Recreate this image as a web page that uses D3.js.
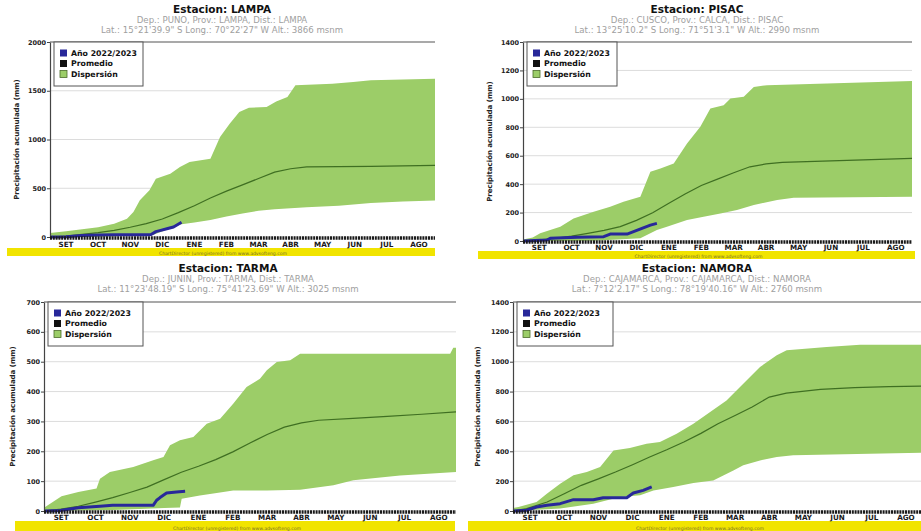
<!DOCTYPE html>
<html>
<head>
<meta charset="utf-8">
<script src="https://cdn.jsdelivr.net/npm/d3@7"></script>
<style>
  body { margin: 0; background: #fff; }
  text { font-family: "DejaVu Sans", sans-serif; }
</style>
</head>
<body>
<div id="chart"></div>
<script>
"use strict"

// month labels (season sep -> aug)
const months = ["SET", "OCT", "NOV", "DIC", "ENE", "FEB", "MAR", "ABR", "MAY", "JUN", "JUL", "AGO"];
const legendLabels = ["Año 2022/2023", "Promedio", "Dispersión"];

// ---- LAMPA  [month, mm]
const lampaTicks = [0, 500, 1000, 1500, 2000];
const lampaMean = [[0,0],[0.5,10],[1,27],[1.5,45],[2,68],[2.5,100],[3,137],[3.5,185],[4,250],[4.5,320],[5,400],[5.5,470],[6,535],[6.5,600],[7,665],[7.5,700],[8,720],[9,722],[10,725],[11,730],[12,735]];
const lampaUpper = [[0,40],[0.5,60],[1,80],[1.5,100],[2,137],[2.4,188],[2.6,256],[2.8,376],[3.1,479],[3.3,598],[3.75,650],[4.05,718],[4.35,769],[5,803],[5.3,1026],[5.6,1162],[5.9,1282],[6.2,1326],[6.75,1333],[7.05,1391],[7.4,1436],[7.65,1556],[8.8,1573],[9.45,1590],[10,1607],[12,1624]];
const lampaLower = [[0,0],[1,2],[2,8],[3,18],[3.2,20],[3.6,70],[4.1,130],[4.5,150],[5,175],[5.5,210],[6,240],[6.5,270],[7,285],[7.5,295],[8,305],[9,320],[10,350],[11,365],[12,375]];
const lampaObs = [[0,0],[0.5,3],[1,15],[1.5,20],[2,22],[2.5,22],[3,22],[3.15,25],[3.3,55],[3.45,68],[3.7,90],[3.85,103],[4.1,152]];

// ---- PISAC
const pisacTicks = [0, 200, 400, 600, 800, 1000, 1200, 1400];
const pisacMean = [[0,0],[0.5,8],[1,19],[1.5,34],[2,54],[2.5,75],[3,101],[3.5,145],[4,199],[4.5,265],[5,330],[5.5,390],[6,435],[6.5,480],[7,522],[7.5,542],[8,553],[9,560],[10,567],[11,574],[12,581]];
const pisacUpper = [[0,10],[0.3,25],[0.53,54],[1.15,100],[1.56,159],[2.18,206],[2.69,241],[3.1,276],[3.62,311],[3.93,487],[4.24,510],[4.65,546],[5.06,686],[5.47,803],[5.78,932],[6.19,955],[6.4,1002],[6.81,1014],[7.12,1084],[7.53,1096],[9.38,1108],[12,1126]];
const pisacLower = [[0,0],[2.18,2],[3.62,19],[4.13,77],[4.44,100],[5.06,148],[5.57,171],[6.09,194],[6.6,218],[7.12,253],[7.84,288],[8.35,304],[12,311]];
const pisacObs = [[0,0],[0.74,7],[0.84,19],[1.67,26],[2.49,30],[2.69,49],[3.21,49],[3.41,66],[3.67,89],[3.93,112],[4.13,124]];

// ---- TARMA
const tarmaTicks = [0, 100, 200, 300, 400, 500, 600, 700];
const tarmaMean = [[0,0],[0.5,6],[1,16],[1.5,30],[2,45],[2.5,62],[3,80],[3.5,105],[4,130],[4.5,150],[5,172],[5.5,198],[6,228],[6.5,256],[7,281],[7.5,295],[8,304],[9,310],[10,317],[11,324],[12,332]];
const tarmaUpper = [[0,11],[0.51,49],[1,64],[1.53,75],[1.63,108],[1.92,131],[2.6,147],[3.18,170],[3.48,181],[3.67,220],[3.96,237],[4.35,248],[4.74,292],[5.13,309],[5.51,359],[5.9,415],[6.29,443],[6.49,471],[6.78,499],[7.17,505],[7.46,527],[11.83,527],[11.92,547],[12,547]];
const tarmaLower = [[0,0],[2,3],[3.5,10],[3.96,12],[4.01,41],[4.54,52],[5.03,60],[5.51,69],[6.49,69],[7.46,71],[8.43,86],[9.01,103],[10.37,119],[12,131]];
const tarmaObs = [[0,0],[0.47,2],[1,11],[1.63,16],[2,19],[3.18,19],[3.28,36],[3.38,45],[3.57,60],[3.86,64],[4.11,66]];

// ---- NAMORA
const namoraTicks = [0, 200, 400, 600, 800, 1000, 1200, 1400];
const namoraMean = [[0,0],[0.4,16],[1,60],[1.5,115],[2,172],[2.5,215],[3,261],[3.5,310],[4,362],[4.5,410],[5,462],[5.5,520],[6,585],[6.5,640],[7,697],[7.5,763],[8,790],[9,815],[10,826],[11,833],[12,837]];
const namoraUpper = [[0,20],[0.16,27],[0.69,60],[0.99,116],[1.38,183],[1.77,239],[2.16,261],[2.55,295],[2.94,406],[3.42,422],[3.91,451],[4.3,462],[4.79,518],[5.28,585],[5.77,663],[6.25,741],[6.74,853],[7.23,965],[7.72,1043],[8.01,1076],[9.18,1098],[10.16,1114],[12,1114]];
const namoraLower = [[0,0],[1.38,16],[2.35,49],[3.13,94],[3.72,105],[4.11,138],[4.69,161],[5.28,188],[5.86,205],[6.45,272],[6.74,306],[7.23,339],[7.72,362],[8.2,373],[12,391]];
const namoraObs = [[0,0],[0.4,5],[0.69,27],[0.99,38],[1.38,49],[1.77,76],[2.35,76],[2.64,89],[3.33,89],[3.52,121],[3.81,138],[4.06,161]];

// panels: text + where they sit on the page
const panels = [
  {title: "Estacion: LAMPA", sub1: "Dep.: PUNO, Prov.: LAMPA, Dist.: LAMPA",
   sub2: "Lat.: 15°21'39.9\" S Long.: 70°22'27\" W Alt.: 3866 msnm",
   ticks: lampaTicks, mean: lampaMean, upper: lampaUpper, lower: lampaLower, obs: lampaObs,
   cx: 222, ty: 13, x0: 50, x1: 435, y0: 237, y1: 42, ylab: 17, band: [7, 248, 428, 8], leg: [54, 143]},
  {title: "Estacion: PISAC", sub1: "Dep.: CUSCO, Prov.: CALCA, Dist.: PISAC",
   sub2: "Lat.: 13°25'10.2\" S Long.: 71°51'3.1\" W Alt.: 2990 msnm",
   ticks: pisacTicks, mean: pisacMean, upper: pisacUpper, lower: pisacLower, obs: pisacObs,
   cx: 697, ty: 13, x0: 523, x1: 912, y0: 241, y1: 42, ylab: 490, band: [478, 251, 437, 8], leg: [527, 617]},
  {title: "Estacion: TARMA", sub1: "Dep.: JUNIN, Prov.: TARMA, Dist.: TARMA",
   sub2: "Lat.: 11°23'48.19\" S Long.: 75°41'23.69\" W Alt.: 3025 msnm",
   ticks: tarmaTicks, mean: tarmaMean, upper: tarmaUpper, lower: tarmaLower, obs: tarmaObs,
   cx: 228, ty: 272, x0: 44, x1: 456, y0: 511, y1: 302, ylab: 13, band: [15, 521, 440, 10], leg: [48, 143]},
  {title: "Estacion: NAMORA", sub1: "Dep.: CAJAMARCA, Prov.: CAJAMARCA, Dist.: NAMORA",
   sub2: "Lat.: 7°12'2.17\" S Long.: 78°19'40.16\" W Alt.: 2760 msnm",
   ticks: namoraTicks, mean: namoraMean, upper: namoraUpper, lower: namoraLower, obs: namoraObs,
   cx: 697, ty: 272, x0: 513, x1: 923, y0: 511, y1: 302, ylab: 478, band: [468, 521, 460, 10], leg: [517, 613]}
];

const svg = d3.select("#chart")
.append("svg")
  .attr("width", 921)
  .attr("height", 531);

svg.append("rect").attr("width", 921).attr("height", 531).attr("fill", "#fff");

const greenFill = "#9ccd68",
  meanColor = "#3f6f22",
  obsColor = "#28289a";

panels.forEach(function(p) {
  const g = svg.append("g");

  const x = d3.scaleLinear().domain([0, 12]).range([p.x0, p.x1]);
  const y = d3.scaleLinear().domain([0, d3.max(p.ticks)]).range([p.y0, p.y1]);

  // titles
  g.append("text").attr("x", p.cx).attr("y", p.ty)
    .attr("text-anchor", "middle").attr("font-size", 10.5).attr("font-weight", "bold")
    .attr("fill", "#111").text(p.title);
  g.append("text").attr("x", p.cx).attr("y", p.ty + 10)
    .attr("text-anchor", "middle").attr("font-size", 8.6).attr("fill", "#a0a0a0").text(p.sub1);
  g.append("text").attr("x", p.cx).attr("y", p.ty + 20)
    .attr("text-anchor", "middle").attr("font-size", 8.6).attr("fill", "#a0a0a0").text(p.sub2);

  // yellow watermark band
  g.append("rect").attr("x", p.band[0]).attr("y", p.band[1])
    .attr("width", p.band[2]).attr("height", p.band[3]).attr("fill", "#f1e400");
  g.append("text").attr("x", p.band[0] + p.band[2] / 2 + 2).attr("y", p.band[1] + p.band[3] - 1.5)
    .attr("text-anchor", "middle").attr("font-size", 4.6).attr("fill", "#77702a")
    .text("ChartDirector (unregistered) from www.advsofteng.com");

  // grid
  g.selectAll(null).data(p.ticks.slice(1, -1)).enter().append("line")
    .attr("x1", p.x0).attr("x2", p.x1)
    .attr("y1", d => y(d)).attr("y2", d => y(d))
    .attr("stroke", "#dcdcdc").attr("stroke-width", 1);

  // dispersion band
  const line = d3.line().x(d => x(d[0])).y(d => y(d[1]));
  g.append("path")
    .attr("d", line(p.upper.concat(p.lower.slice().reverse())) + "Z")
    .attr("fill", greenFill);

  // mean
  g.append("path").attr("d", line(p.mean))
    .attr("fill", "none").attr("stroke", meanColor).attr("stroke-width", 1.2);

  // current season
  g.append("path").attr("d", line(p.obs))
    .attr("fill", "none").attr("stroke", obsColor).attr("stroke-width", 3)
    .attr("stroke-linejoin", "round");

  // top border
  g.append("line").attr("x1", p.x0).attr("x2", p.x1)
    .attr("y1", p.y1).attr("y2", p.y1).attr("stroke", "#555").attr("stroke-width", 1.2);

  // y axis
  const ya = g.append("g")
    .attr("transform", "translate(" + p.x0 + ",0)")
    .call(d3.axisLeft(y).tickValues(p.ticks).tickSize(3).tickSizeOuter(0).tickFormat(d3.format("d")));
  ya.select(".domain").attr("stroke", "#444").attr("stroke-width", 1.2);
  ya.selectAll(".tick line").attr("stroke", "#444");
  ya.selectAll(".tick text").attr("font-family", "DejaVu Sans").attr("font-size", 6.5)
    .attr("font-weight", "bold").attr("fill", "#222").attr("x", -4);

  g.append("text")
    .attr("transform", "translate(" + p.ylab + "," + ((p.y0 + p.y1) / 2) + ") rotate(-90)")
    .attr("text-anchor", "middle").attr("dy", "0.35em")
    .attr("font-size", 7).attr("font-weight", "bold").attr("fill", "#222")
    .text("Precipitación acumulada (mm)");

  // x axis: thick dotted baseline + month labels
  g.append("line").attr("x1", p.x0).attr("x2", p.x1)
    .attr("y1", p.y0 + 1).attr("y2", p.y0 + 1)
    .attr("stroke", "#1a1a1a").attr("stroke-width", 3.5).attr("stroke-dasharray", "2,0.8");
  g.selectAll(null).data(months).enter().append("text")
    .attr("x", (d, i) => x(i + 0.5)).attr("y", p.band[1] - 1)
    .attr("text-anchor", "middle").attr("font-size", 7.2).attr("font-weight", "bold")
    .attr("fill", "#1a1a1a").text(d => d);

  // legend
  const lg = g.append("g");
  lg.append("rect").attr("x", p.leg[0]).attr("y", p.y1)
    .attr("width", p.leg[1] - p.leg[0]).attr("height", 44)
    .attr("fill", "#fff").attr("stroke", "#555").attr("stroke-width", 1);
  const swatch = [obsColor, "#111", greenFill];
  legendLabels.forEach(function(t, i) {
    const ry = p.y1 + 11 + i * 10.5;
    lg.append("rect").attr("x", p.leg[0] + 6).attr("y", ry - 3.5)
      .attr("width", 7).attr("height", 7).attr("fill", swatch[i])
      .attr("stroke", i === 2 ? "#4b6b2a" : "none").attr("stroke-width", 0.8);
    lg.append("text").attr("x", p.leg[0] + 17).attr("y", ry)
      .attr("dy", "0.35em").attr("font-size", 7.8).attr("font-weight", "bold")
      .attr("fill", "#111").text(t);
  });
});
</script>
</body>
</html>
